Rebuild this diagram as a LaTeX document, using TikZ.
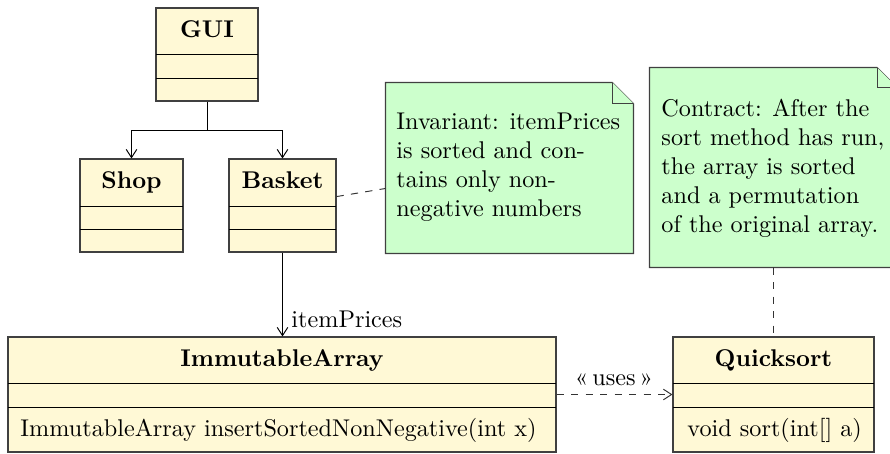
\documentclass[tikz,border=0pt]{standalone}
\usetikzlibrary{arrows.meta,fit}

\definecolor{classfill}{RGB}{255,249,214}
\definecolor{notefill}{RGB}{204,255,204}

\tikzset{
  classbox/.style={draw=black!75, fill=classfill, line width=0.45pt, inner sep=0pt},
  notearea/.style={inner sep=0pt},
  notepath/.style={draw=black!75, fill=notefill, line width=0.45pt},
  compsep/.style={draw=black, line width=0.4pt},
  classtitle/.style={font=\bfseries, inner sep=0pt, anchor=base},
  member/.style={inner sep=0pt, anchor=base west},
  notetext/.style={inner sep=0pt, align=left, anchor=north west},
  uarrow/.style={draw=black, line width=0.4pt, -{Straight Barb[length=3.4pt,width=4.4pt]}},
  noteline/.style={draw=black!80, line width=0.4pt, dashed},
  depline/.style={draw=black!80, line width=0.4pt, dashed, -{Straight Barb[length=3.4pt,width=4.4pt]}},
  lbl/.style={inner sep=0pt}
}

\begin{document}
\begin{tikzpicture}[x=0.4132pt, y=-0.4132pt]
  \useasboundingbox (0,0) rectangle (890,453);

  % ---- classes ----
  \node[classbox, fit={(156,8) (258,101)}] (gui) {};
  \draw[compsep] (156,54) -- (258,54);
  \draw[compsep] (156,78) -- (258,78);
  \node[classtitle] (gui-name) at (207,37) {GUI};

  \node[classbox, fit={(80,159) (183,252)}] (shop) {};
  \draw[compsep] (80,206) -- (183,206);
  \draw[compsep] (80,229) -- (183,229);
  \node[classtitle] (shop-name) at (131.5,188) {Shop};

  \node[classbox, fit={(229,159) (336,252)}] (basket) {};
  \draw[compsep] (229,206) -- (336,206);
  \draw[compsep] (229,229) -- (336,229);
  \node[classtitle] (basket-name) at (282.5,188) {Basket};

  \node[classbox, fit={(8,337) (556,452)}] (imm) {};
  \draw[compsep] (8,383) -- (556,383);
  \draw[compsep] (8,407) -- (556,407);
  \node[classtitle] (imm-name) at (282,366) {ImmutableArray};
  \node[member] (imm-op) at (20,436) {ImmutableArray insertSortedNonNegative(int x)};

  \node[classbox, fit={(673,337) (874,452)}] (quick) {};
  \draw[compsep] (673,383) -- (874,383);
  \draw[compsep] (673,407) -- (874,407);
  \node[classtitle] (quick-name) at (773.5,366) {Quicksort};
  \node[member] (quick-op) at (687,436) {void sort(int[] a)};

  % ---- notes ----
  \node[notearea, fit={(386,83) (633,253)}] (inv) {};
  \draw[notepath] (inv.north west) -- ([xshift=-8.7pt]inv.north east)
        -- ([yshift=-8.7pt]inv.north east) -- (inv.south east)
        -- (inv.south west) -- cycle;
  \draw[notepath] ([xshift=-8.7pt]inv.north east)
        -- ([xshift=-8.7pt,yshift=-8.7pt]inv.north east)
        -- ([yshift=-8.7pt]inv.north east);
  \node[notetext] (inv-text) at (396,112.5)
    {Invariant: itemPrices\\is sorted and con-\\tains only non-\\negative numbers};

  \node[notearea, fit={(650,68) (897,267)}] (contract) {};
  \draw[notepath] (contract.north west) -- ([xshift=-8.4pt]contract.north east)
        -- ([yshift=-8.4pt]contract.north east) -- (contract.south east)
        -- (contract.south west) -- cycle;
  \draw[notepath] ([xshift=-8.4pt]contract.north east)
        -- ([xshift=-8.4pt,yshift=-8.4pt]contract.north east)
        -- ([yshift=-8.4pt]contract.north east);
  \node[notetext] (contract-text) at (661,99)
    {Contract: After the\\sort method has run,\\the array is sorted\\and a permutation\\of the original array.};

  % ---- connectors ----
  \coordinate (split) at (207,130);
  \draw[uarrow] (gui.south) -- (split) -| (shop.north);
  \draw[uarrow] (split) -| (basket.north);

  \draw[uarrow] (basket.south) -- (basket.south |- imm.north);
  \node[lbl, anchor=base west] (assoc-lbl) at (291,327) {itemPrices};

  \draw[noteline] (basket) -- (inv);
  \draw[noteline] (contract.south) -- (contract.south |- quick.north);

  \draw[depline] (imm) -- (quick);
  \node[lbl, anchor=base] (uses-lbl) at (614,385) {«\,uses\,»};
\end{tikzpicture}
\end{document}
